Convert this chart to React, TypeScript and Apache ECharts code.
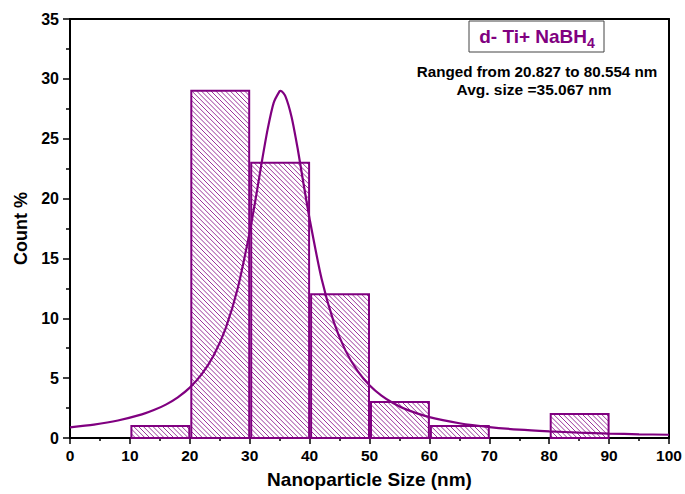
import React, { useEffect, useRef } from "react";
import * as echarts from "echarts";

// Histogram bins (nm) and their count %
const binStart = [10, 20, 30, 40, 50, 60, 70, 80];
const binEnd = [20, 30, 40, 50, 60, 70, 80, 90];
const countPct = [1, 29, 23, 12, 3, 1, 0, 2];

// Fitted distribution curve
const fitX = [0, 4, 8, 12, 14, 16, 18, 20, 22, 24, 26, 28, 30, 31, 32, 33, 34, 35, 35.2, 36, 37, 38, 39, 40, 42, 44, 46, 48, 50, 52, 54, 56, 60, 65, 70, 75, 80, 85, 90, 95, 100];
const fitY = [0.89, 1.12, 1.46, 1.97, 2.33, 2.79, 3.4, 4.21, 5.33, 6.91, 9.18, 12.5, 17.2, 20.0, 23.0, 25.8, 28.0, 28.97, 29.0, 28.5, 26.8, 24.2, 21.2, 18.3, 13.3, 9.75, 7.3, 5.61, 4.41, 3.54, 2.9, 2.41, 1.74, 1.23, 0.91, 0.7, 0.56, 0.45, 0.37, 0.31, 0.27];

const xTicks = { min: 0, max: 100, interval: 10 };
const yTicks = { min: 0, max: 35, interval: 5 };

const labelTitle = "d- Ti+ NaBH";
const labelSub = "4";
const rangeText = "Ranged from 20.827 to 80.554 nm";
const avgText = "Avg. size =35.067 nm";

const PURPLE = "#800080";
const FONT = '"Liberation Sans", Arial, sans-serif';

export default function App() {
  const ref = useRef<HTMLDivElement>(null);

  useEffect(() => {
    document.body.style.margin = "0";
    const chart = echarts.init(ref.current!, null, { renderer: "svg" });

    const barData = binStart.map((s, i) => [s, binEnd[i], countPct[i]]);
    const lineData = fitX.map((x, i) => [x, fitY[i]]);

    const hatch = 4.8;

    const option: any = {
      animation: false,
      backgroundColor: "#fff",
      grid: { left: 70, right: 16, top: 19, bottom: 53 },
      xAxis: [
        {
          type: "value",
          min: xTicks.min,
          max: xTicks.max,
          interval: xTicks.interval,
          name: "Nanoparticle Size (nm)",
          nameLocation: "middle",
          nameGap: 32,
          nameTextStyle: { fontFamily: FONT, fontWeight: "bold", fontSize: 19, color: "#000" },
          axisLine: { show: true, onZero: false, lineStyle: { color: "#000", width: 2 } },
          axisTick: { show: true, inside: false, length: 6, lineStyle: { color: "#000", width: 1.5 } },
          minorTick: { show: true, splitNumber: 2, length: 3, lineStyle: { color: "#000", width: 1.5 } },
          axisLabel: { fontFamily: FONT, fontWeight: "bold", fontSize: 15.5, color: "#000", margin: 9 },
          splitLine: { show: false },
        },
        {
          type: "value",
          position: "top",
          min: xTicks.min,
          max: xTicks.max,
          interval: xTicks.interval,
          axisLine: { show: true, onZero: false, lineStyle: { color: "#000", width: 2 } },
          axisTick: { show: false },
          axisLabel: { show: false },
          splitLine: { show: false },
        },
      ],
      yAxis: [
        {
          type: "value",
          min: yTicks.min,
          max: yTicks.max,
          interval: yTicks.interval,
          name: "Count %",
          nameLocation: "middle",
          nameGap: 40,
          nameTextStyle: { fontFamily: FONT, fontWeight: "bold", fontSize: 18, color: "#000" },
          axisLine: { show: true, onZero: false, lineStyle: { color: "#000", width: 2 } },
          axisTick: { show: true, inside: false, length: 7, lineStyle: { color: "#000", width: 1.5 } },
          minorTick: { show: true, splitNumber: 2, length: 4, lineStyle: { color: "#000", width: 1.5 } },
          axisLabel: { fontFamily: FONT, fontWeight: "bold", fontSize: 16, color: "#000", margin: 11 },
          splitLine: { show: false },
        },
        {
          type: "value",
          position: "right",
          min: yTicks.min,
          max: yTicks.max,
          interval: yTicks.interval,
          axisLine: { show: true, onZero: false, lineStyle: { color: "#000", width: 2 } },
          axisTick: { show: false },
          axisLabel: { show: false },
          splitLine: { show: false },
        },
      ],
      series: [
        {
          type: "custom",
          xAxisIndex: 0,
          yAxisIndex: 0,
          encode: { x: [0, 1], y: 2 },
          data: barData,
          z: 2,
          renderItem: (params: any, api: any) => {
            const x0 = api.value(0);
            const x1 = api.value(1);
            const v = api.value(2);
            if (!v) return { type: "group", children: [] };
            const p0 = api.coord([x0, v]);
            const p1 = api.coord([x1, 0]);
            const L = p0[0] + 1.5;
            const R = p1[0] - 0.5;
            const T = p0[1];
            const B = p1[1];
            const children: any[] = [];
            const cStart = Math.ceil((T - R) / hatch) * hatch;
            for (let c = cStart; c <= B - L; c += hatch) {
              const xa = Math.max(L, T - c);
              const xb = Math.min(R, B - c);
              if (xb - xa > 0.3) {
                children.push({
                  type: "line",
                  shape: { x1: xa, y1: xa + c, x2: xb, y2: xb + c },
                  style: { stroke: PURPLE, lineWidth: 0.8 },
                  silent: true,
                });
              }
            }
            children.push({
              type: "rect",
              shape: { x: L, y: T, width: R - L, height: B - T },
              style: { fill: "none", stroke: PURPLE, lineWidth: 2 },
            });
            return { type: "group", children };
          },
        },
        {
          type: "line",
          xAxisIndex: 0,
          yAxisIndex: 0,
          data: lineData,
          smooth: 0.25,
          showSymbol: false,
          symbol: "none",
          z: 3,
          lineStyle: { color: PURPLE, width: 2.2 },
        },
      ],
      graphic: [
        {
          type: "rect",
          shape: { x: 469, y: 21, width: 135, height: 31 },
          style: { fill: "#fff", stroke: "#444", lineWidth: 1 },
          z: 10,
        },
        {
          type: "text",
          x: 537,
          y: 36,
          z: 11,
          style: {
            text: "{a|" + labelTitle + "}{s|" + labelSub + "}",
            align: "center",
            verticalAlign: "middle",
            rich: {
              a: { fontFamily: FONT, fontWeight: "bold", fontSize: 19, fill: PURPLE, lineHeight: 27, verticalAlign: "middle" },
              s: { fontFamily: FONT, fontWeight: "bold", fontSize: 14, fill: PURPLE, lineHeight: 27, verticalAlign: "bottom" },
            },
          },
        },
        {
          type: "text",
          x: 537,
          y: 71,
          z: 11,
          style: {
            text: rangeText,
            align: "center",
            verticalAlign: "middle",
            fontFamily: FONT,
            fontWeight: "bold",
            fontSize: 15.2,
            fill: "#000",
          },
        },
        {
          type: "text",
          x: 534,
          y: 89,
          z: 11,
          style: {
            text: avgText,
            align: "center",
            verticalAlign: "middle",
            fontFamily: FONT,
            fontWeight: "bold",
            fontSize: 15.5,
            fill: "#000",
          },
        },
      ],
    };

    chart.setOption(option);
    return () => chart.dispose();
  }, []);

  return <div ref={ref} style={{ width: 685, height: 494 }} />;
}
